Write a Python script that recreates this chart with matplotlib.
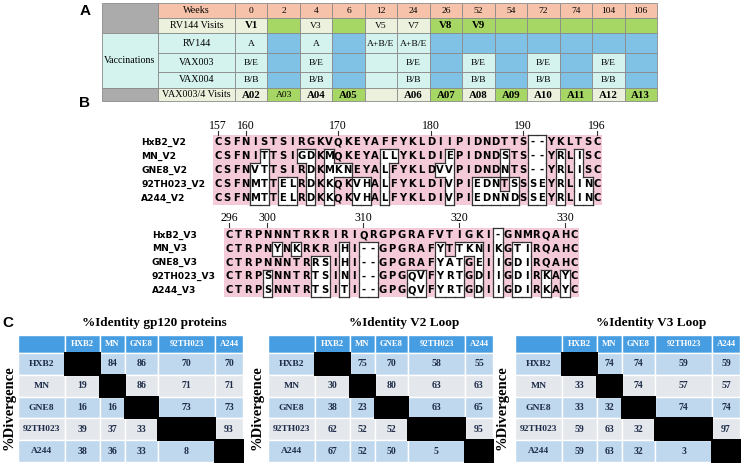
#Program to redraw the vaccine schedule / alignment / identity figure
import numpy as np
import matplotlib
matplotlib.use('Agg')
import matplotlib.pyplot as plt
from matplotlib.patches import Rectangle

#---------------- data ----------------
#Panel A : schedule
weeks = [0, 2, 4, 6, 12, 24, 26, 52, 54, 72, 74, 104, 106]
rv144_visits = ['V1', '', 'V3', '', 'V5', 'V7', 'V8', 'V9', '', '', '', '', '']
rv144_vacc = ['A', '', 'A', '', 'A+B/E', 'A+B/E', '', '', '', '', '', '', '']
vax003_vacc = ['B/E', '', 'B/E', '', '', 'B/E', '', 'B/E', '', 'B/E', '', 'B/E', '']
vax004_vacc = ['B/B', '', 'B/B', '', '', 'B/B', '', 'B/B', '', 'B/B', '', 'B/B', '']
vax_visits = ['A02', 'A03', 'A04', 'A05', '', 'A06', 'A07', 'A08', 'A09', 'A10', 'A11', 'A12', 'A13']

#Panel B : alignments
v2_names = ['HxB2_V2', 'MN_V2', 'GNE8_V2', '92TH023_V2', 'A244_V2']
v2_seqs = ['CSFNISTSIRGKVQKEYAFFYKLDIIPIDNDTTS--YKLTSC',
           'CSFNITTSIGDKMQKEYALLYKLDIEPIDNDSTS--YRLISC',
           'CSFNVTTSIRDKMKNEYALFYKLDVVPIDNDNTS--YRLISC',
           'CSFNMTTELRDKKQKVHALFYKLDIVPIEDNTSSSEYRLINC',
           'CSFNMTTELRDKKQKVHALFYKLDIVPIEDNNDSSEYRLINC']
v2_start = 157
v2_marks = [157, 160, 170, 180, 190, 196]

v3_names = ['HxB2_V3', 'MN_V3', 'GNE8_V3', '92TH023_V3', 'A244_V3']
v3_seqs = ['CTRPNNNTRKRIRIQRGPGRAFVTIGKI-GNMRQAHC',
           'CTRPNYNKRKRIHI--GPGRAFYTTKNIKGTIRQAHC',
           'CTRPNNNTRRSIHI--GPGRAFYATGEIIGDIRQAHC',
           'CTRPSNNTRTSINI--GPGQVFYRTGDIIGDIRKAYC',
           'CTRPSNNTRTSITI--GPGQVFYRTGDIIGDIRKAYC']
v3_start = 296
v3_marks = [296, 300, 310, 320, 330]

#Panel C : identity (upper) / divergence (lower)
strains = ['HXB2', 'MN', 'GNE8', '92TH023', 'A244']
nan = np.nan
gp120_mat = np.array([[nan, 84, 86, 70, 70],
                      [19, nan, 86, 71, 71],
                      [16, 16, nan, 73, 73],
                      [39, 37, 33, nan, 93],
                      [38, 36, 33, 8, nan]])
v2_mat = np.array([[nan, 75, 70, 58, 55],
                   [30, nan, 80, 63, 63],
                   [38, 23, nan, 63, 65],
                   [62, 52, 52, nan, 95],
                   [67, 52, 50, 5, nan]])
v3_mat = np.array([[nan, 74, 74, 59, 59],
                   [33, nan, 74, 57, 57],
                   [33, 32, nan, 74, 74],
                   [59, 63, 32, nan, 97],
                   [59, 63, 32, 3, nan]])

#---------------- styles ----------------
SERIF = 'Liberation Serif'
SANS = 'DejaVu Sans'
c_salmon = '#F6C3AA'
c_gray = '#ABABAB'
c_cream = '#EBF1DD'
c_green = '#A6D664'
c_cyan = '#D4F3EE'
c_blue = '#80C2E6'
c_pink = '#F4CAD8'
fill_map = {'L': c_cream, 'G': c_green, 'C': c_cyan, 'B': c_blue, 'S': c_salmon}

#setting up plot (pixel coordinates)
fig = plt.figure(figsize=(7.41, 4.65), dpi=100)
ax = fig.add_axes([0, 0, 1, 1])
ax.set_xlim(0, 741)
ax.set_ylim(465, 0)
ax.axis('off')

def cell(x, y, w, h, fc, ec='#8A8A8A', lw=0.6):
    ax.add_patch(Rectangle((x, y), w, h, facecolor=fc, edgecolor=ec, linewidth=lw))

#================ Panel A ================
ax.text(85, 11, 'A', fontsize=11, fontweight='bold', family='Liberation Sans', ha='center', va='center')
xa0, xa1, xw0 = 102, 158, 235
col_w = (657 - xw0) / len(weeks)
ry = [3, 18, 33, 53, 72, 88, 101]

rows = [
    ('Weeks', [str(w) for w in weeks], 'S' * 13, '0' * 13, c_salmon),
    ('RV144 Visits', rv144_visits, 'LGLGLLGGGGGGG', '1000001100000', c_cream),
    ('RV144', rv144_vacc, 'CBCBCCBBBBBBB', '0' * 13, c_cyan),
    ('VAX003', vax003_vacc, 'CBCBCCBCBCBCB', '0' * 13, c_cyan),
    ('VAX004', vax004_vacc, 'CBCBCCBCBCBCB', '0' * 13, c_cyan),
    ('VAX003/4 Visits', vax_visits, 'LGLGLLGLGLGLG', '1011111111111', c_cream),
]

#left merged cells
cell(xa0, ry[0], xa1 - xa0, ry[2] - ry[0], c_gray)
cell(xa0, ry[2], xa1 - xa0, ry[5] - ry[2], c_cyan)
ax.text((xa0 + xa1) / 2, (ry[2] + ry[5]) / 2, 'Vaccinations', fontsize=7.2, family=SERIF,
        ha='center', va='center')
cell(xa0, ry[5], xa1 - xa0, ry[6] - ry[5], c_gray)

for r, (lab, vals, fills, bolds, lab_c) in enumerate(rows):
    y0, y1 = ry[r], ry[r + 1]
    cell(xa1, y0, xw0 - xa1, y1 - y0, lab_c)
    ax.text((xa1 + xw0) / 2, (y0 + y1) / 2, lab, fontsize=7.2, family=SERIF, ha='center', va='center')
    for i, v in enumerate(vals):
        x = xw0 + i * col_w
        cell(x, y0, col_w, y1 - y0, fill_map[fills[i]])
        if v:
            bold = bolds[i] == '1'
            ax.text(x + col_w / 2, (y0 + y1) / 2 + 0.5, v, fontsize=7.8 if bold else 6.8,
                    fontweight='bold' if bold else 'normal', family=SERIF,
                    ha='center', va='center')

#================ Panel B ================
ax.text(85, 103, 'B', fontsize=11, fontweight='bold', family='Liberation Sans', ha='center', va='center')

def draw_alignment(names, seqs, start, marks, x0, dx, y0, dy, name_x, num_y):
    nr, nc = len(seqs), len(seqs[0])
    ref = seqs[0]
    ax.add_patch(Rectangle((x0 - dx / 2, y0 - dy / 2), nc * dx, nr * dy,
                           facecolor=c_pink, edgecolor='none', hatch='....',
                           linewidth=0))
    #residues differing from the reference (or gaps) are boxed in white
    white = np.zeros((nr, nc), dtype=bool)
    for r, s in enumerate(seqs):
        for j, ch in enumerate(s):
            white[r, j] = ch == '-' or ch != ref[j]
    for r in range(nr):
        for j in range(nc):
            if white[r, j]:
                ax.add_patch(Rectangle((x0 + (j - 0.5) * dx, y0 + (r - 0.5) * dy), dx, dy,
                                       facecolor='white', edgecolor='none'))
    lk = dict(color='#333333', linewidth=0.9, solid_capstyle='projecting')
    for r in range(nr):
        for j in range(nc):
            if not white[r, j]:
                continue
            xl, xr = x0 + (j - 0.5) * dx, x0 + (j + 0.5) * dx
            yt, yb = y0 + (r - 0.5) * dy, y0 + (r + 0.5) * dy
            if j == 0 or not white[r, j - 1]:
                ax.plot([xl, xl], [yt, yb], **lk)
            if j == nc - 1 or not white[r, j + 1]:
                ax.plot([xr, xr], [yt, yb], **lk)
            if r == 0 or not white[r - 1, j]:
                ax.plot([xl, xr], [yt, yt], **lk)
            if r == nr - 1 or not white[r + 1, j]:
                ax.plot([xl, xr], [yb, yb], **lk)
    for r, s in enumerate(seqs):
        ax.text(name_x, y0 + r * dy, names[r], fontsize=6.6, fontweight='bold', family=SANS,
                ha='left', va='center')
        for j, ch in enumerate(s):
            ax.text(x0 + j * dx, y0 + r * dy, ch, fontsize=7.2, fontweight='bold', family=SANS,
                    ha='center', va='center')
    #numbering along reference (gaps not counted)
    pos = []
    k = start
    for ch in ref:
        pos.append(k if ch != '-' else None)
        if ch != '-':
            k += 1
    for m in marks:
        j = pos.index(m)
        xm = x0 + j * dx
        ax.text(xm, num_y, str(m), fontsize=8.5, family=SERIF, ha='center', va='center')
        ax.plot([xm, xm], [num_y + 5, num_y + 9], color='#333333', linewidth=0.8)

plt.rcParams['hatch.color'] = '#FBE6ED'
plt.rcParams['hatch.linewidth'] = 0.6
draw_alignment(v2_names, v2_seqs, v2_start, v2_marks, 218, 9.25, 142, 14, 141, 126)
draw_alignment(v3_names, v3_seqs, v3_start, v3_marks, 229, 9.6, 235, 13.8, 152, 218)

#================ Panel C ================
ax.text(8, 323, 'C', fontsize=11, fontweight='bold', family='Liberation Sans', ha='center', va='center')
col_ws = [47, 35, 25, 33, 57, 28]
c_head = '#469DE2'
c_rowb = '#BFD8EE'
c_rowg = '#E4E7EC'
c_txt = '#1F2D4A'

def draw_table(xt, title, mat, div_x):
    hy0, hy1 = 335, 353
    rh = (462 - hy1) / len(strains)
    xs = np.concatenate([[xt], xt + np.cumsum(col_ws)])
    ax.text((xs[1] + xs[-1]) / 2, 323, title, fontsize=9.5, fontweight='bold', family=SERIF,
            ha='center', va='center')
    for c in range(len(col_ws)):
        cell(xs[c], hy0, col_ws[c], hy1 - hy0, c_head, ec='white', lw=1)
        if c > 0:
            ax.text((xs[c] + xs[c + 1]) / 2, (hy0 + hy1) / 2, strains[c - 1], fontsize=6.2,
                    fontweight='bold', family=SERIF, color='white', ha='center', va='center')
    for r, name in enumerate(strains):
        y0 = hy1 + r * rh
        fc = c_rowb if r % 2 == 0 else c_rowg
        cell(xs[0], y0, col_ws[0], rh, fc, ec='white', lw=1)
        ax.text((xs[0] + xs[1]) / 2, y0 + rh / 2, name, fontsize=6.8, fontweight='bold',
                family=SERIF, color=c_txt, ha='center', va='center')
        for c in range(len(strains)):
            v = mat[r, c]
            cell(xs[c + 1], y0, col_ws[c + 1], rh, fc, ec='white', lw=1)
            if np.isnan(v):
                continue
            ax.text((xs[c + 1] + xs[c + 2]) / 2, y0 + rh / 2, '%d' % v, fontsize=7,
                    fontweight='bold', family=SERIF, color=c_txt, ha='center', va='center')
    #black diagonal drawn last, slightly oversize
    for r in range(len(strains)):
        y0 = hy1 + r * rh
        ax.add_patch(Rectangle((xs[r + 1] - 1, y0 - 1), col_ws[r + 1] + 2, rh + 2,
                               facecolor='black', edgecolor='none'))
    ax.text(div_x, (hy1 + 462) / 2, '%Divergence', fontsize=10.5, fontweight='bold',
            family=SERIF, rotation=90, ha='center', va='center')

draw_table(18, '%Identity gp120 proteins', gp120_mat, 9)
draw_table(268, '%Identity V2 Loop', v2_mat, 257)
draw_table(515, '%Identity V3 Loop', v3_mat, 502)

plt.savefig('out.png', dpi=100)
